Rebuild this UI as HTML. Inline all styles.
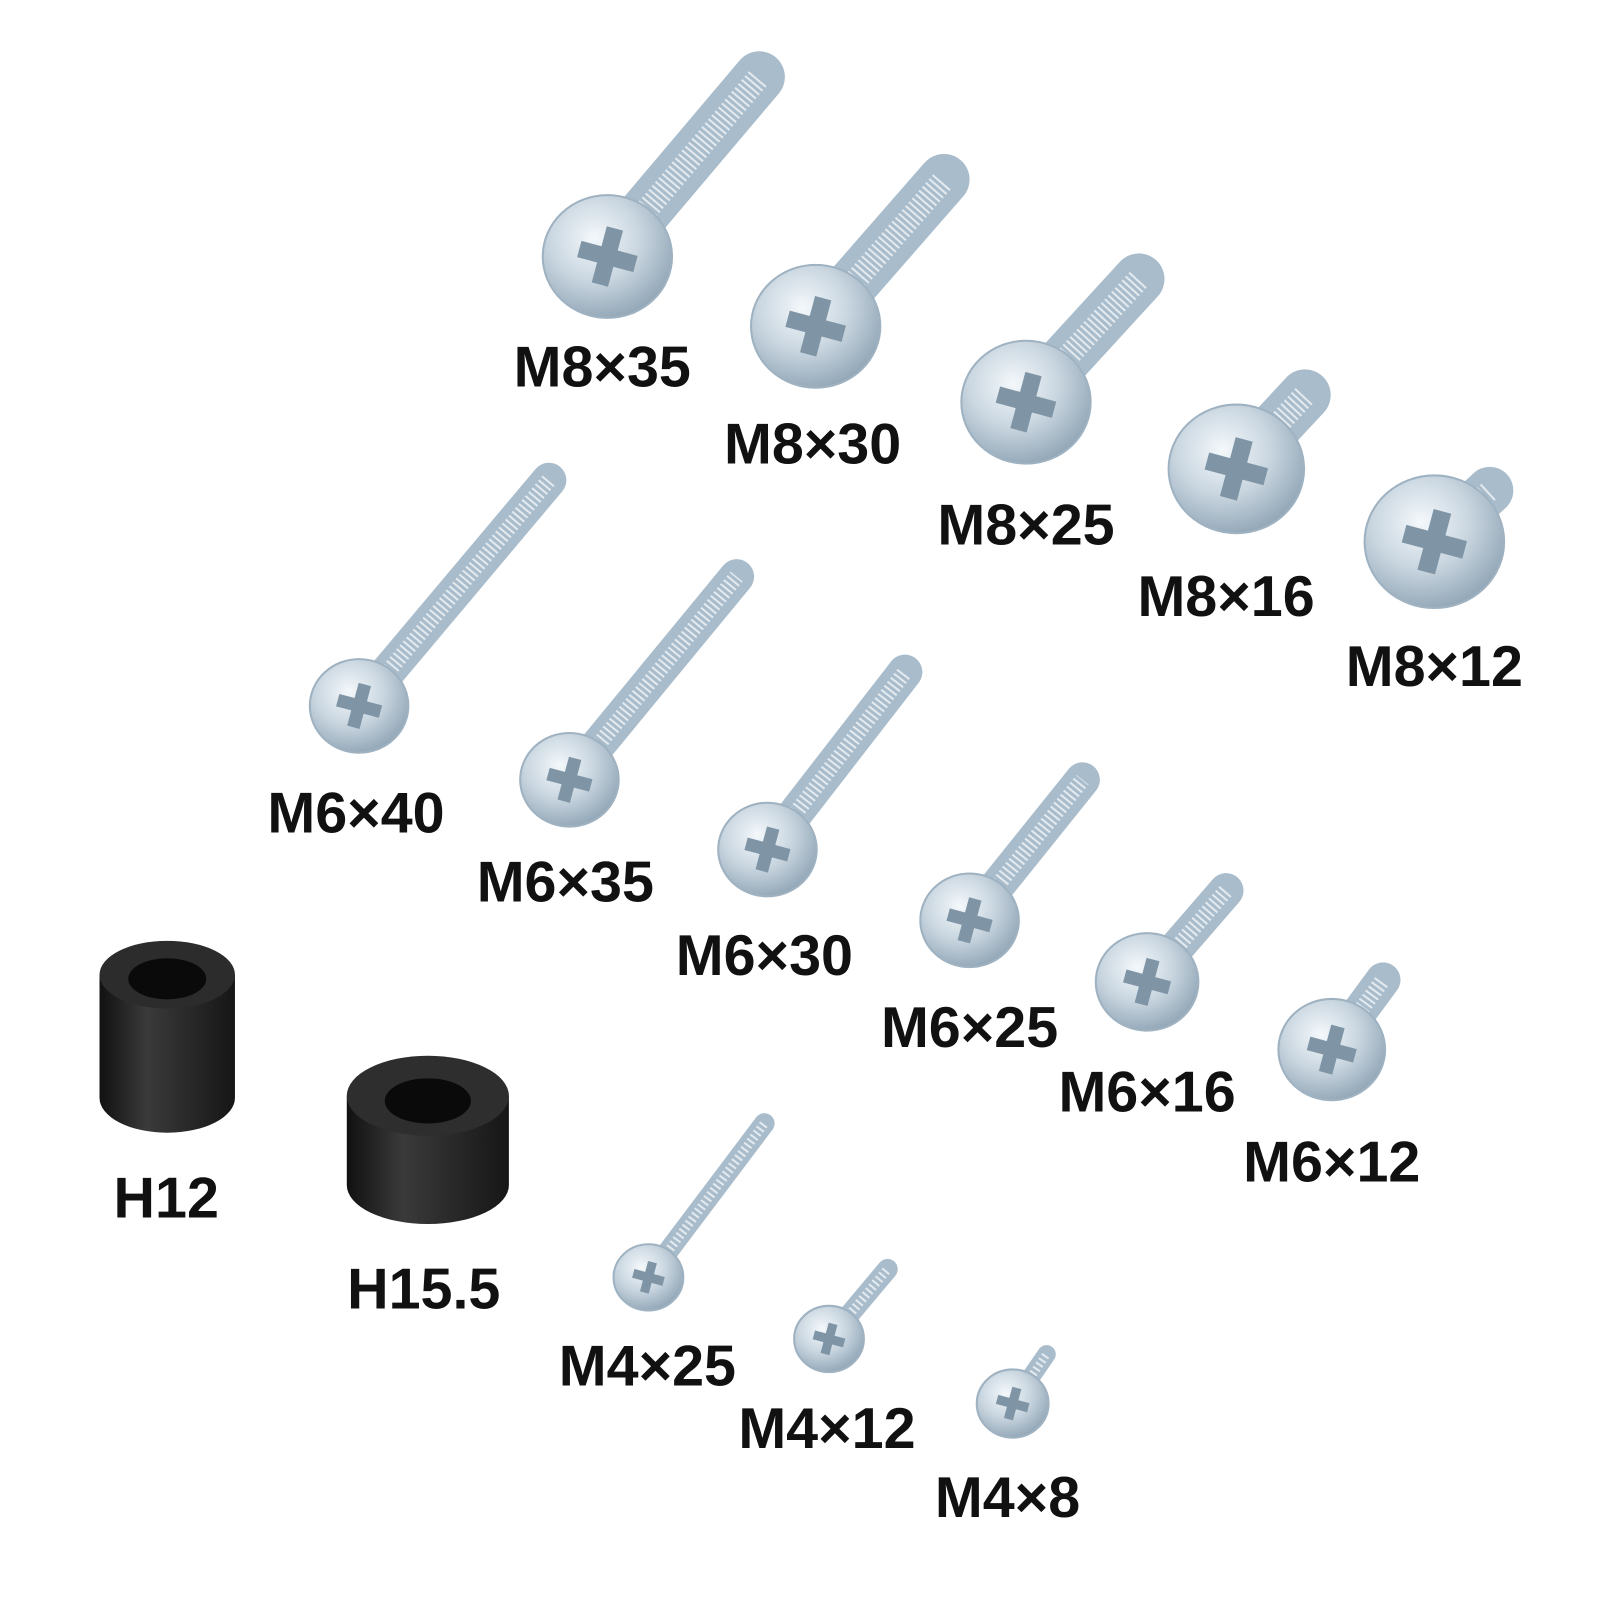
<!DOCTYPE html>
<html><head><meta charset="utf-8"><style>
html,body{margin:0;padding:0;background:#fff;width:1600px;height:1600px;overflow:hidden}
svg{display:block}
text{font-family:"Liberation Sans",sans-serif;font-weight:bold;font-size:56px;fill:#111;text-anchor:middle;dominant-baseline:central}
</style></head><body>
<svg id="s" width="1600" height="1600" viewBox="0 0 1600 1600">
<defs>
<radialGradient id="hg" cx="0.4" cy="0.35" r="0.7">
<stop offset="0" stop-color="#f4f8fb"/><stop offset="0.5" stop-color="#c9d6e0"/><stop offset="1" stop-color="#8ea3b4"/>
</radialGradient>
<linearGradient id="rb" x1="0" x2="1" y1="0" y2="0">
<stop offset="0" stop-color="#111"/><stop offset="0.35" stop-color="#3a3a3a"/><stop offset="1" stop-color="#161616"/>
</linearGradient>
</defs>
<g transform="scale(1.026)">
<g id="screws"></g>
<path d="M97,950 L97,1070 A66,34 0 0 0 229,1070 L229,950 Z" fill="url(#rb)"/>
<ellipse cx="163" cy="950" rx="66" ry="33" fill="#2c2c2c"/>
<ellipse cx="163" cy="954" rx="38" ry="20" fill="#0a0a0a"/>
<path d="M338,1068 L338,1155 A79,38 0 0 0 496,1155 L496,1068 Z" fill="url(#rb)"/>
<ellipse cx="417" cy="1068" rx="79" ry="39" fill="#2e2e2e"/>
<ellipse cx="417" cy="1073" rx="42" ry="22" fill="#0a0a0a"/>
<text x="587" y="358">M8×35</text>
<text x="792" y="433">M8×30</text>
<text x="1000" y="512">M8×25</text>
<text x="1195" y="582">M8×16</text>
<text x="1398" y="650">M8×12</text>
<text x="347" y="793">M6×40</text>
<text x="551" y="860">M6×35</text>
<text x="745" y="932">M6×30</text>
<text x="945" y="1002">M6×25</text>
<text x="1118" y="1065">M6×16</text>
<text x="1298" y="1133">M6×12</text>
<text x="162" y="1168">H12</text>
<text x="413" y="1257">H15.5</text>
<text x="631" y="1332">M4×25</text>
<text x="806" y="1393">M4×12</text>
<text x="982" y="1460">M4×8</text>
</g>
</svg>
<script>
var S=[[592,250,63,740,75,50],[795,318,63,920,175,50],[1000,392,63,1110,272,50],[1205,457,66,1272,385,50],[1398,528,68,1452,478,46],
[350,688,48,535,468,34],[555,760,48,718,562,34],[748,828,48,882,655,34],[945,897,48,1055,760,34],[1118,957,50,1195,868,34],[1298,1023,52,1348,955,34],
[632,1245,34,745,1095,20],[808,1305,34,865,1237,20],[987,1368,35,1020,1320,18]];
var g=document.getElementById('screws'),h='';
S.forEach(function(a){var x=a[0],y=a[1],r=a[2],ex=a[3],ey=a[4],w=a[5];
h+='<line x1="'+x+'" y1="'+y+'" x2="'+ex+'" y2="'+ey+'" stroke="#a9bccb" stroke-width="'+w+'" stroke-linecap="round"/>';
h+='<line x1="'+x+'" y1="'+y+'" x2="'+ex+'" y2="'+ey+'" stroke="#e2eaf0" stroke-width="'+(w*0.45)+'" stroke-dasharray="2 3"/>';
h+='<ellipse cx="'+x+'" cy="'+y+'" rx="'+r+'" ry="'+(r*0.95)+'" fill="url(#hg)" stroke="#9fb2c1" stroke-width="2"/>';
var c=r*0.45,t=r*0.13;
h+='<path d="M'+(x-c)+','+(y-t)+'H'+(x-t)+'V'+(y-c)+'H'+(x+t)+'V'+(y-t)+'H'+(x+c)+'V'+(y+t)+'H'+(x+t)+'V'+(y+c)+'H'+(x-t)+'V'+(y+t)+'H'+(x-c)+'Z" fill="#7f95a6" transform="rotate(15 '+x+' '+y+')"/>';
});
g.innerHTML=h;
</script>
</body></html>
